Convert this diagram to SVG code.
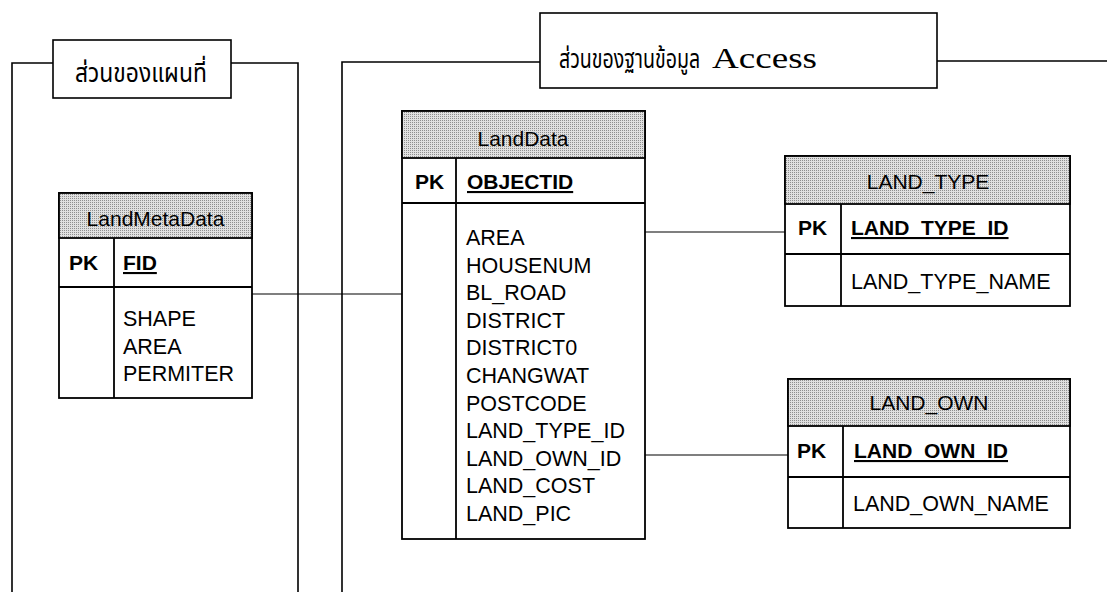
<svg xmlns="http://www.w3.org/2000/svg" width="1107" height="592" viewBox="0 0 1107 592">
  <defs>
    <pattern id="dots" width="2" height="2" patternUnits="userSpaceOnUse">
      <rect width="2" height="2" fill="#e0e0e0"/>
      <rect width="1" height="1" fill="#8e8e8e"/>
    </pattern>
    <style>
      .frame { fill: none; stroke: #000; stroke-width: 1.6; }
      .tbox { fill: #fff; stroke: #000; stroke-width: 1.6; }
      .tbl { fill: #fff; stroke: #000; stroke-width: 1.8; }
      .hdr { fill: url(#dots); stroke: #000; stroke-width: 1.8; }
      .ln { fill: none; stroke: #000; stroke-width: 1.8; }
      .conn { fill: none; stroke: #000; stroke-width: 1.2; }
      .th { font-family: "Noto Sans Thai", "Noto Serif Thai", "Loma", "Garuda", "Norasi", "Tlwg Typo", "DejaVu Sans", sans-serif; font-size: 26px; fill: #000; }
      .ser { font-family: "Liberation Serif", "Times New Roman", serif; font-size: 29px; fill: #000; }
      .h { font-family: "Liberation Sans", Arial, sans-serif; font-size: 21px; fill: #000; text-anchor: middle; }
      .f { font-family: "Liberation Sans", Arial, sans-serif; font-size: 21.5px; fill: #000; }
      .b { font-family: "Liberation Sans", Arial, sans-serif; font-size: 21px; font-weight: bold; fill: #000; }
      .u { text-decoration: underline; }
    </style>
  </defs>
  <rect width="1107" height="592" fill="#fff"/>

  <g id="frame-map">
    <path class="frame" d="M12,592 V63 H53 M231,63 H298 V592"/>
    <rect class="tbox" x="53" y="40" width="178" height="58"/>
    <text class="th" transform="translate(75,82) scale(0.78,1)" x="0" y="0" textLength="169" lengthAdjust="spacingAndGlyphs">ส่วนของแผนที่</text>
  </g>

  <g id="frame-access">
    <path class="frame" d="M342,592 V62 H540 M937,61 H1107"/>
    <rect class="tbox" x="540" y="13" width="397" height="75"/>
    <text class="th" transform="translate(559,68) scale(0.78,1)" x="0" y="0" textLength="181" lengthAdjust="spacingAndGlyphs">ส่วนของฐานข้อมูล</text>
    <text class="ser" x="712" y="68" textLength="105" lengthAdjust="spacingAndGlyphs">Access</text>
  </g>

  <g id="connectors">
    <path class="conn" d="M252,294 H402"/>
    <path class="conn" d="M645,232 H785"/>
    <path class="conn" d="M645,455 H788"/>
  </g>

  <g id="LandMetaData">
    <rect class="tbl" x="59" y="193" width="193" height="205"/>
    <rect class="hdr" x="59" y="193" width="193" height="45"/>
    <path class="ln" d="M59,287 H252 M114,238 V398"/>
    <text class="h" x="155.5" y="226">LandMetaData</text>
    <text class="b" x="69" y="270">PK</text>
    <text class="b u" x="123" y="270">FID</text>
    <text class="f" x="123" y="326">SHAPE</text>
    <text class="f" x="123" y="353.5">AREA</text>
    <text class="f" x="123" y="381">PERMITER</text>
  </g>

  <g id="LandData">
    <rect class="tbl" x="402" y="111" width="243" height="428"/>
    <rect class="hdr" x="402" y="111" width="243" height="47"/>
    <path class="ln" d="M402,203 H645 M456,158 V539"/>
    <text class="h" x="523" y="146">LandData</text>
    <text class="b" x="415" y="189">PK</text>
    <text class="b u" x="467" y="189">OBJECTID</text>
    <text class="f" x="466" y="245">AREA</text>
    <text class="f" x="466" y="272.6">HOUSENUM</text>
    <text class="f" x="466" y="300.2">BL_ROAD</text>
    <text class="f" x="466" y="327.8">DISTRICT</text>
    <text class="f" x="466" y="355.4">DISTRICT0</text>
    <text class="f" x="466" y="383">CHANGWAT</text>
    <text class="f" x="466" y="410.6">POSTCODE</text>
    <text class="f" x="466" y="438.2">LAND_TYPE_ID</text>
    <text class="f" x="466" y="465.8">LAND_OWN_ID</text>
    <text class="f" x="466" y="493.4">LAND_COST</text>
    <text class="f" x="466" y="521">LAND_PIC</text>
  </g>

  <g id="LAND_TYPE">
    <rect class="tbl" x="785" y="156" width="285" height="150"/>
    <rect class="hdr" x="785" y="156" width="285" height="48"/>
    <path class="ln" d="M785,254 H1070 M841,204 V306"/>
    <text class="h" x="928" y="189">LAND_TYPE</text>
    <text class="b" x="798" y="235">PK</text>
    <text class="b u" x="851" y="235">LAND_TYPE_ID</text>
    <text class="f" x="851" y="289">LAND_TYPE_NAME</text>
  </g>

  <g id="LAND_OWN">
    <rect class="tbl" x="788" y="379" width="282" height="149"/>
    <rect class="hdr" x="788" y="379" width="282" height="47"/>
    <path class="ln" d="M788,477 H1070 M843,426 V528"/>
    <text class="h" x="929" y="410">LAND_OWN</text>
    <text class="b" x="797" y="458">PK</text>
    <text class="b u" x="854" y="458">LAND_OWN_ID</text>
    <text class="f" x="853" y="511">LAND_OWN_NAME</text>
  </g>
</svg>
